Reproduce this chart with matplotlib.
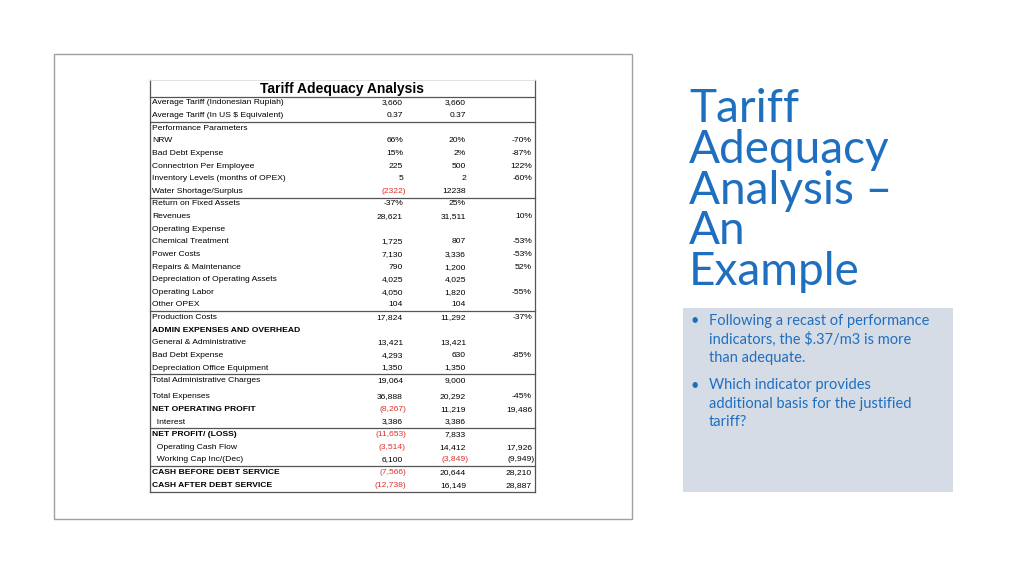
import matplotlib.pyplot as plt
from matplotlib.lines import Line2D
from matplotlib.patches import Rectangle

# table contents
labels = [
    "Average Tariff (Indonesian Rupiah)", "Average Tariff (In US $ Equivalent)",
    "Performance Parameters", "NRW", "Bad Debt Expense", "Connectrion Per Employee",
    "Inventory Levels (months of OPEX)", "Water Shortage/Surplus",
    "Return on Fixed Assets", "Revenues", "Operating Expense", "Chemical Treatment",
    "Power Costs", "Repairs & Maintenance", "Depreciation of Operating Assets",
    "Operating Labor", "Other OPEX", "Production Costs", "ADMIN EXPENSES AND OVERHEAD",
    "General & Administrative", "Bad Debt Expense", "Depreciation Office Equipment",
    "Total Administrative Charges", "Total Expenses", "NET OPERATING PROFIT",
    "  Interest", "NET PROFIT/ (LOSS)", "  Operating Cash Flow", "  Working Cap Inc/(Dec)",
    "CASH BEFORE DEBT SERVICE", "CASH AFTER DEBT SERVICE",
]
col_before = [
    "3,660", "0.37", "", "66%", "15%", "225", "5", "(2322)", "-37%", "28,621", "",
    "1,725", "7,130", "790", "4,025", "4,050", "104", "17,824", "", "13,421", "4,293",
    "1,350", "19,064", "36,888", "(8,267)", "3,386", "(11,653)", "(3,514)", "6,100",
    "(7,566)", "(12,738)",
]
col_after = [
    "3,660", "0.37", "", "20%", "2%", "500", "2", "12238", "25%", "31,511", "",
    "807", "3,336", "1,200", "4,025", "1,820", "104", "11,292", "", "13,421", "630",
    "1,350", "9,000", "20,292", "11,219", "3,386", "7,833", "14,412", "(3,849)",
    "20,644", "16,149",
]
col_change = [
    "", "", "", "-70%", "-87%", "122%", "-60%", "", "", "10%", "", "-53%", "-53%",
    "52%", "", "-55%", "", "-37%", "", "", "-85%", "", "", "-45%", "19,486", "",
    "", "17,926", "(9,949)", "28,210", "28,887",
]
bold_rows = ["ADMIN EXPENSES AND OVERHEAD", "NET OPERATING PROFIT", "NET PROFIT/ (LOSS)",
             "CASH BEFORE DEBT SERVICE", "CASH AFTER DEBT SERVICE"]
# rows after which a rule is drawn
rule_after = ["Average Tariff (In US $ Equivalent)", "Water Shortage/Surplus", "Other OPEX",
              "Depreciation Office Equipment", "  Interest", "  Working Cap Inc/(Dec)"]

bullets = [
    ["Following a recast of performance", "indicators, the $.37/m3 is more", "than adequate."],
    ["Which indicator provides", "additional basis for the justified", "tariff?"],
]
title_lines = ["Tariff", "Adequacy", "Analysis –", "An", "Example"]

W, H = 1024, 575
fig = plt.figure(figsize=(W / 100, H / 100), dpi=100)
ax = fig.add_axes([0, 0, 1, 1])
ax.set_xlim(0, W)
ax.set_ylim(H, 0)
ax.axis("off")

# picture frame
ax.add_patch(Rectangle((54, 54), 578, 465, fill=False, ec="#a0a0a0", lw=1))

tfont = "Liberation Sans"
ax.text(342, 89, "Tariff Adequacy Analysis", ha="center", va="center",
        fontsize=10, fontweight="bold", family=tfont)

left, right = 150, 535
y = 103.0
step = 12.62
ys = []
for lab in labels:
    if lab == "Total Expenses":
        y += 3.5
    ys.append(y)
    y += step

red = "#e0302a"
for lab, a, b, c, yy in zip(labels, col_before, col_after, col_change, ys):
    bold = lab in bold_rows
    ax.text(left + 2, yy, lab, va="center", fontsize=6.1, family=tfont,
            fontweight="bold" if bold else "normal")
    for val, xr in ((a, 403), (b, 466), (c, 532)):
        col = red if val.startswith("(") and xr < 530 else "black"
        ax.text(xr + (3 if val.startswith("(") else 0), yy, val, va="center", ha="right",
                fontsize=6.1, family=tfont, color=col)

# table rules
top = ys[0] - 6.5
bottom = ys[-1] + 6.5
ax.add_line(Line2D([left, right], [top, top], color="#555", lw=0.9))
ax.add_line(Line2D([left, right], [bottom, bottom], color="#555", lw=0.9))
ax.add_line(Line2D([left, left], [80, bottom], color="#555", lw=0.9))
ax.add_line(Line2D([right, right], [80, bottom], color="#555", lw=0.9))
ax.add_line(Line2D([left, right], [80, 80], color="#ddd", lw=0.6))
for lab, yy in zip(labels, ys):
    if lab in rule_after:
        ax.add_line(Line2D([left, right], [yy + 6.3, yy + 6.3], color="#555", lw=0.9))

# slide title
blue = "#1f6fc0"
for i, t in enumerate(title_lines):
    ax.text(689, 122 + i * 40.8, t, fontsize=33, color=blue, family="Lato",
            va="baseline")

# bullet box
ax.add_patch(Rectangle((683, 308), 270, 184, color="#d6dce5", lw=0))
by = 321
for group in bullets:
    ax.text(690, by, "•", fontsize=10.5, color=blue, family="Lato", va="center")
    for line in group:
        ax.text(709, by, line, fontsize=10.5, color=blue, family="Lato", va="center")
        by += 18.5
    by += 9

fig.savefig("out.png", dpi=100)
